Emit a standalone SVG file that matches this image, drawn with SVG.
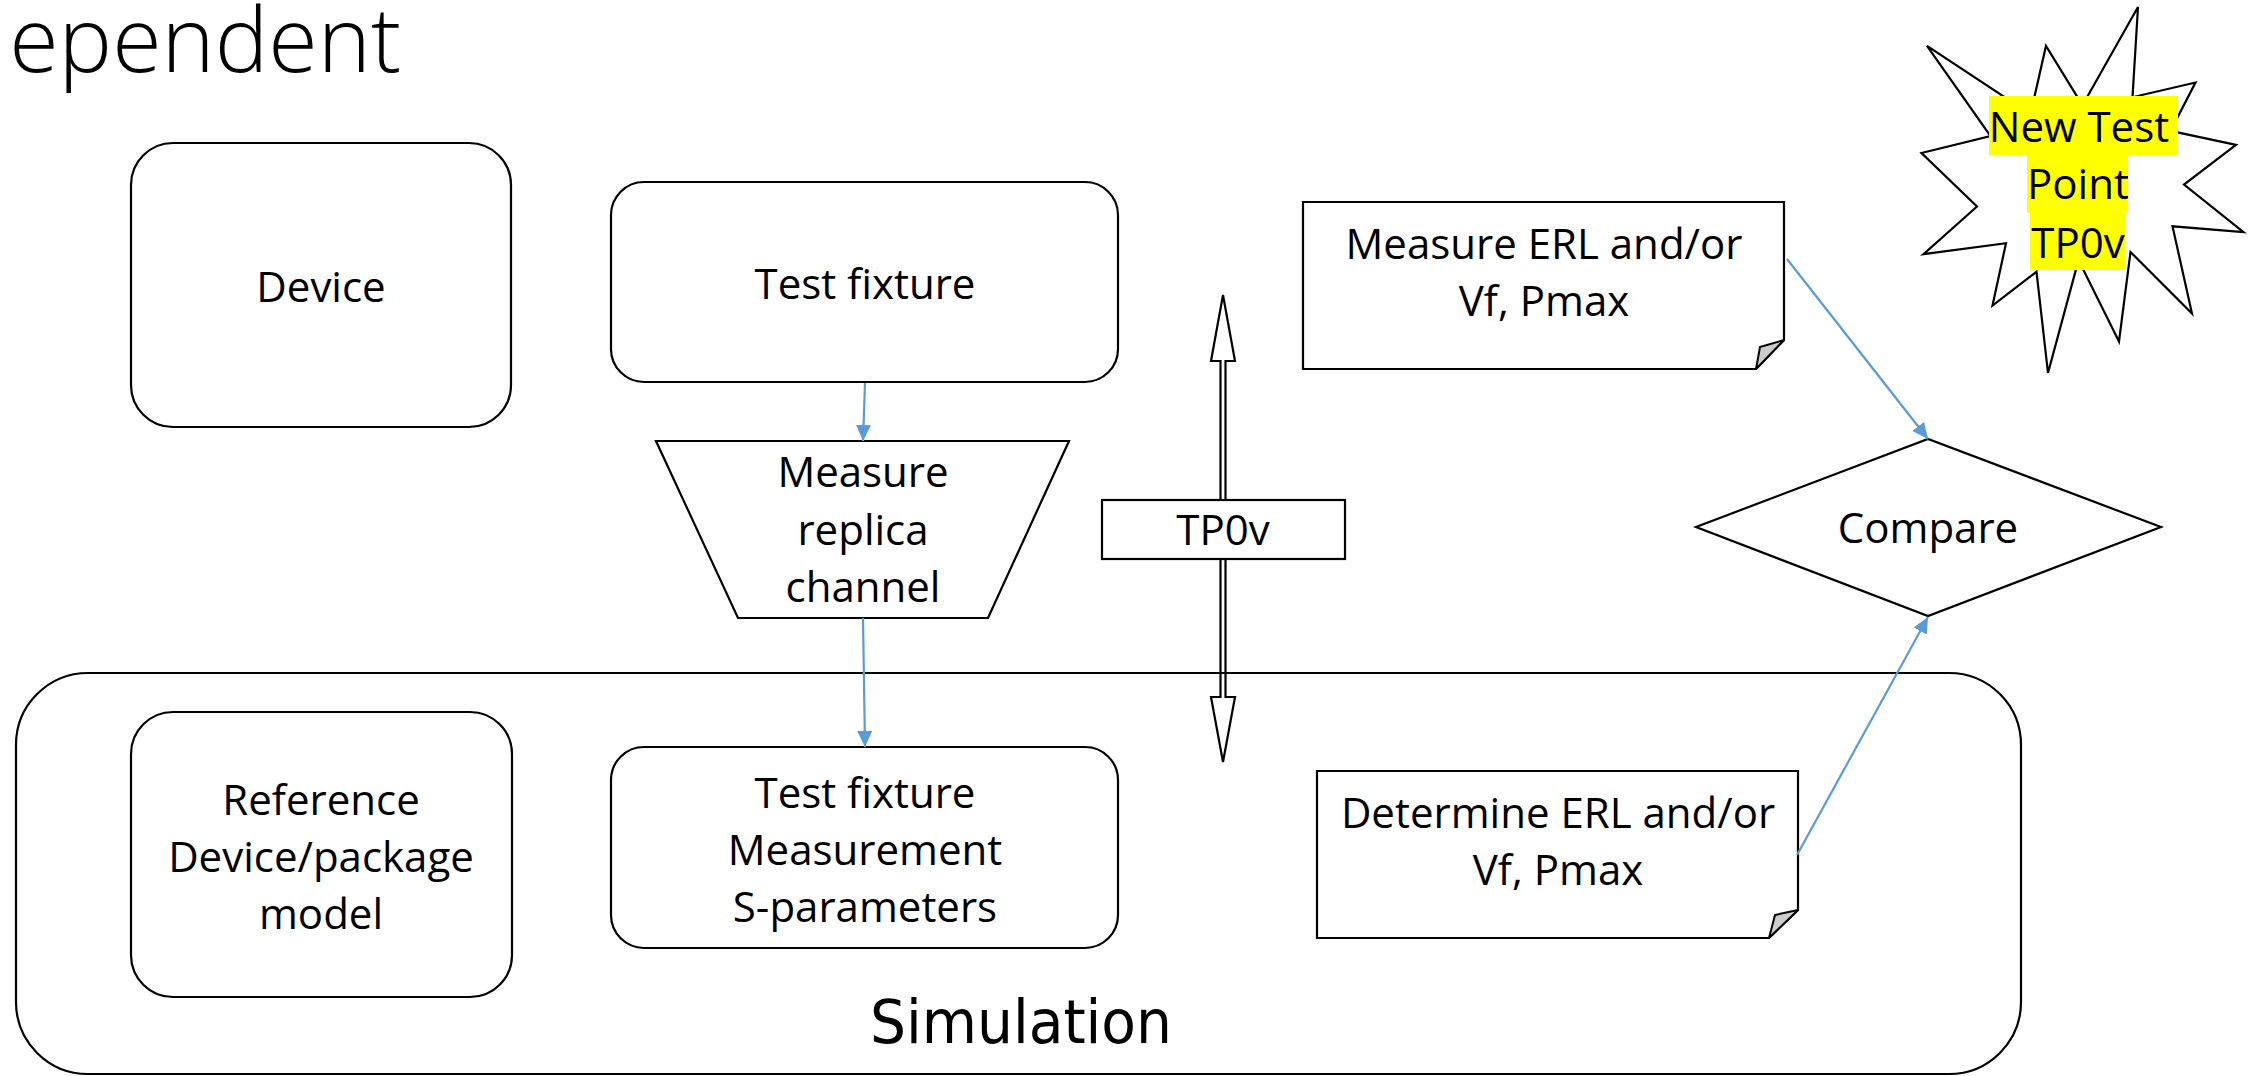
<svg xmlns="http://www.w3.org/2000/svg" width="2260" height="1076" viewBox="0 0 2260 1076">
<style>
  .box { fill: #FFFFFF; stroke: #000000; stroke-width: 2.2; }
  .frame { fill: none; stroke: #000000; stroke-width: 2.2; }
  .t { font-family: "Open Sans", "Noto Sans", "Liberation Sans", sans-serif; font-size: 42px; fill: #000000; text-anchor: middle; }
  .light { font-weight: 300; }
  .conn { fill: none; stroke: #5B9BD5; stroke-width: 2.2; marker-end: url(#ah); }
  .fold { fill: #CCCCCC; stroke: #000000; stroke-width: 2; stroke-linejoin: round; }
  .hl { fill: #FFFF00; }
</style>
<defs>
  <marker id="ah" markerUnits="userSpaceOnUse" markerWidth="17" markerHeight="16" refX="16" refY="7.5" orient="auto">
    <path d="M0,0 L16,7.5 L0,15 Z" fill="#5B9BD5"/>
  </marker>
</defs>
<rect width="2260" height="1076" fill="#FFFFFF"/>

<g id="title">
  <text class="t light" x="401" y="72" style="font-size:90px;text-anchor:end">ependent</text>
</g>

<g id="tp0v-arrow">
  <polygon class="box" points="1223,295 1235,361 1225.5,361 1225.5,697 1235,697 1223,762 1211,697 1220.5,697 1220.5,361 1211,361"/>
  <rect class="box" x="1102" y="500" width="243" height="59"/>
  <text class="t" x="1223" y="545">TP0v</text>
</g>

<g id="simulation">
  <rect class="frame" x="16" y="673" width="2005" height="401" rx="72" ry="72"/>
  <text x="1021" y="1043" textLength="302" lengthAdjust="spacingAndGlyphs" style="font-family:'DejaVu Sans','Liberation Sans',sans-serif;font-size:60px;text-anchor:middle;fill:#000000">Simulation</text>
</g>

<g id="device">
  <rect class="box" x="131" y="143" width="380" height="284" rx="42" ry="42"/>
  <text class="t" x="321" y="302">Device</text>
</g>

<g id="test-fixture">
  <rect class="box" x="611" y="182" width="507" height="200" rx="33" ry="33"/>
  <text class="t" x="865" y="299">Test fixture</text>
</g>

<g id="measure-replica">
  <polygon class="box" points="656,441 1069,441 988,618 738,618"/>
  <text class="t" x="863" y="487">Measure</text>
  <text class="t" x="863" y="545">replica</text>
  <text class="t" x="863" y="602">channel</text>
</g>

<g id="measure-erl">
  <path class="box" d="M1303,202 H1784 V340 L1756,369 H1303 Z"/>
  <polygon class="fold" points="1756,369 1760,347 1784,340"/>
  <text class="t" x="1544" y="259">Measure ERL and/or</text>
  <text class="t" x="1544" y="316">Vf, Pmax</text>
</g>

<g id="compare">
  <polygon class="box" points="1696,527 1928,439 2161,527 1928,616"/>
  <text class="t" x="1928" y="543">Compare</text>
</g>

<g id="new-test-point">
  <polygon class="box" points="2082.5,105.3 2138,7 2132.5,97.2 2195.5,82.5 2170.5,130.9 2236,144.9 2184,184.5 2243.5,232.2 2172.5,226.3 2192,313.6 2130.5,252 2119,341.4 2078.5,260.1 2048,373 2036.5,271.8 1992.5,305.5 2006,243.2 1923.5,254.2 1977,206.5 1921.5,153 1990.5,136.1 1927,45.9 2030.5,114.1 2046,45.9"/>
  <rect class="hl" x="1989" y="96" width="189" height="59"/>
  <rect class="hl" x="2027" y="155" width="101" height="58"/>
  <rect class="hl" x="2030" y="213" width="95" height="57"/>
  <text class="t" x="2079" y="142">New Test</text>
  <text class="t" x="2078" y="199">Point</text>
  <text class="t" x="2078" y="258">TP0v</text>
</g>

<g id="reference-model">
  <rect class="box" x="131" y="712" width="381" height="285" rx="42" ry="42"/>
  <text class="t" x="321" y="815">Reference</text>
  <text class="t" x="321" y="872">Device/package</text>
  <text class="t" x="321" y="929">model</text>
</g>

<g id="fixture-sparams">
  <rect class="box" x="611" y="747" width="507" height="201" rx="33" ry="33"/>
  <text class="t" x="865" y="808">Test fixture</text>
  <text class="t" x="865" y="865">Measurement</text>
  <text class="t" x="865" y="922">S-parameters</text>
</g>

<g id="determine-erl">
  <path class="box" d="M1317,771 H1798 V910 L1769,938 H1317 Z"/>
  <polygon class="fold" points="1769,938 1775,915 1798,910"/>
  <text class="t" x="1558" y="828">Determine ERL and/or</text>
  <text class="t" x="1558" y="885">Vf, Pmax</text>
</g>

<g id="connectors">
  <line class="conn" x1="865" y1="383" x2="863" y2="441"/>
  <line class="conn" x1="863" y1="618" x2="865" y2="747"/>
  <line class="conn" x1="1787" y1="259" x2="1928" y2="439"/>
  <line class="conn" x1="1797" y1="855" x2="1928" y2="617"/>
</g>
</svg>
